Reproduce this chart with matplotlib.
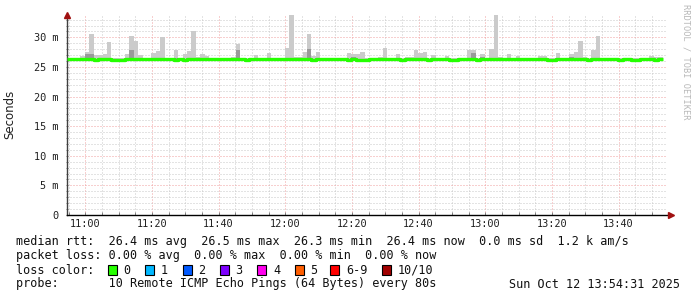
import matplotlib
matplotlib.use("Agg")
import matplotlib.pyplot as plt
from matplotlib.ticker import MultipleLocator, FuncFormatter
from matplotlib.patches import Rectangle

# ---------------- data ----------------
start_time = "10:54:31"
end_label = "Sun Oct 12 13:54:31 2025"
step_s = 80
span_s = 3 * 3600

# smoke top (ms) per 80 s step
smoke_max = [
    26.55, 26.6, 26.55, 26.87, 27.6, 30.52, 27.04, 27.04, 27.21, 29.17,
    26.6, 26.6, 26.6, 27.21, 30.19, 29.4, 27.04, 26.55, 26.55, 27.32,
    27.71, 30.07, 26.55, 26.55, 27.82, 26.55, 27.21, 27.71, 31.08, 26.76,
    27.15, 26.87, 26.55, 26.6, 26.6, 26.6, 26.55, 26.76, 28.84, 26.55,
    26.55, 26.55, 27.04, 26.55, 26.55, 27.32, 26.55, 26.6, 26.55, 28.16,
    33.78, 26.76, 26.76, 27.49, 30.52, 26.87, 27.49, 26.55, 26.6, 26.55,
    26.55, 26.55, 26.55, 27.32, 27.15, 27.15, 27.49, 26.55, 26.55, 26.55,
    26.76, 28.16, 26.55, 26.55, 27.15, 26.55, 26.76, 26.76, 27.88, 27.32,
    27.49, 26.55, 27.04, 26.55, 26.55, 26.87, 26.55, 26.6, 26.55, 26.6,
    27.88, 27.88, 26.55, 27.15, 26.55, 28.05, 33.78, 26.76, 26.55, 27.15,
    26.55, 26.87, 26.55, 26.6, 26.55, 26.55, 26.87, 26.87, 26.55, 26.55,
    27.32, 26.55, 26.55, 27.15, 27.49, 29.4, 26.76, 26.55, 27.88, 30.19,
    26.55, 26.55, 26.6, 26.55, 26.55, 26.55, 26.6, 26.55, 26.55, 26.55,
    26.55, 26.87, 26.76, 26.76,
]
smoke_min = [26.2] * len(smoke_max)

# darker inner smoke (step index, top in ms)
dark_steps = [4, 5, 14, 24, 38, 54, 64, 91, 93, 113]
dark_tops = [27.15, 27.2, 27.82, 26.6, 27.82, 28.05, 26.76, 27.32, 26.76, 26.76]

# median rtt per step (ms)
median_ms = [
    26.4, 26.4, 26.4, 26.4, 26.4, 26.4, 26.25, 26.4, 26.4, 26.4,
    26.25, 26.25, 26.25, 26.4, 26.4, 26.4, 26.4, 26.4, 26.4, 26.4,
    26.4, 26.4, 26.4, 26.4, 26.25, 26.4, 26.25, 26.4, 26.4, 26.4,
    26.4, 26.4, 26.4, 26.4, 26.4, 26.4, 26.4, 26.4, 26.4, 26.4,
    26.25, 26.4, 26.4, 26.4, 26.4, 26.4, 26.4, 26.4, 26.4, 26.4,
    26.4, 26.4, 26.4, 26.4, 26.4, 26.25, 26.4, 26.4, 26.4, 26.4,
    26.4, 26.4, 26.4, 26.25, 26.4, 26.25, 26.25, 26.25, 26.4, 26.4,
    26.4, 26.4, 26.4, 26.4, 26.4, 26.25, 26.4, 26.4, 26.4, 26.4,
    26.4, 26.25, 26.4, 26.4, 26.4, 26.4, 26.25, 26.25, 26.4, 26.4,
    26.4, 26.4, 26.25, 26.4, 26.4, 26.4, 26.4, 26.4, 26.4, 26.4,
    26.4, 26.4, 26.4, 26.4, 26.4, 26.4, 26.4, 26.4, 26.25, 26.25,
    26.4, 26.4, 26.4, 26.4, 26.4, 26.4, 26.4, 26.25, 26.4, 26.4,
    26.4, 26.4, 26.4, 26.4, 26.25, 26.4, 26.4, 26.25, 26.25, 26.4,
    26.4, 26.4, 26.25, 26.4,
]

legend_lines = [
    "median rtt:  26.4 ms avg  26.5 ms max  26.3 ms min  26.4 ms now  0.0 ms sd  1.2 k am/s",
    "packet loss: 0.00 % avg  0.00 % max  0.00 % min  0.00 % now",
]
probe_line = "probe:       10 Remote ICMP Echo Pings (64 Bytes) every 80s"
loss_labels = ["0", "1", "2", "3", "4", "5", "6-9", "10/10"]
loss_colors = ["#26ff00", "#00b8ff", "#0059ff", "#7e00ff", "#ff00ee",
               "#ff5e00", "#ff0000", "#a10000"]

# ---------------- figure ----------------
W, H = 697, 297
fig = plt.figure(figsize=(W / 100, H / 100), dpi=100)
fig.patch.set_facecolor("white")
ax = fig.add_axes([67 / W, (H - 215) / H, 600 / W, 200 / H])
ax.set_facecolor("white")

hh, mm, ss = (int(v) for v in start_time.split(":"))
t0 = hh * 3600 + mm * 60 + ss
times = [t0 + i * step_s for i in range(len(smoke_max))]

ax.set_xlim(t0, t0 + span_s)
ax.set_ylim(0, 33.78)

# grid
ax.xaxis.set_major_locator(MultipleLocator(1200))
ax.xaxis.set_minor_locator(MultipleLocator(300))
ax.yaxis.set_major_locator(MultipleLocator(5))
ax.yaxis.set_minor_locator(MultipleLocator(1))
ax.grid(which="minor", color="#c8c8c8", linestyle=(0, (1, 2)), linewidth=0.72)
ax.grid(which="major", color="#f0a0a0", linestyle=(0, (1, 2)), linewidth=0.72)
ax.set_axisbelow(True)

# smoke
heights = [mx - mn for mx, mn in zip(smoke_max, smoke_min)]
ax.bar(times, heights, bottom=smoke_min, width=step_s, align="edge",
       color="#cbcbcb", linewidth=0, zorder=2)
dk_x = [times[i] for i in dark_steps]
dk_b = [smoke_min[i] for i in dark_steps]
dk_h = [top - smoke_min[i] for i, top in zip(dark_steps, dark_tops)]
ax.bar(dk_x, dk_h, bottom=dk_b, width=step_s, align="edge",
       color="#9a9a9a", linewidth=0, zorder=3)

# median line
ax.step(times + [times[-1] + step_s], median_ms + [median_ms[-1]], where="post",
        color="#26ff00", linewidth=2.4, solid_capstyle="butt", zorder=4)

# axes styling
for s in ["top", "right"]:
    ax.spines[s].set_visible(False)
ax.spines["left"].set_color("#404040")
ax.spines["bottom"].set_color("black")
ax.spines["left"].set_linewidth(1.0)
ax.spines["bottom"].set_linewidth(1.0)
ax.spines["bottom"].set_bounds(t0, t0 + span_s * 1.003)
ax.tick_params(which="both", length=2, color="#808080", width=0.7)
ax.tick_params(axis="x", which="both", direction="in", pad=3)
ax.tick_params(axis="y", which="both", direction="inout", pad=5)

mono = "DejaVu Sans Mono"
ax.xaxis.set_major_formatter(FuncFormatter(
    lambda v, p: "%02d:%02d" % (int(v) // 3600, (int(v) % 3600) // 60)))
ax.yaxis.set_major_formatter(FuncFormatter(
    lambda v, p: "0" if abs(v) < 1e-9 else "%d m" % round(v)))
for lab in ax.get_xticklabels() + ax.get_yticklabels():
    lab.set_fontfamily(mono)
    lab.set_fontsize(7.4)
    lab.set_color("#202020")

# arrows
ax.plot([0], [1.0], marker="^", color="#a01010", markersize=4.5,
        transform=ax.transAxes, clip_on=False, zorder=6)
ax.plot([1.006], [0], marker=">", color="#a01010", markersize=4.5,
        transform=ax.transAxes, clip_on=False, zorder=6)

# y label
fig.text(10 / W, 1 - 114 / H, "Seconds", rotation=90, ha="center", va="center",
         fontsize=8.5, family="DejaVu Sans", color="#202020")

# watermark
fig.text(686 / W, 1 - 4 / H, "RRDTOOL / TOBI OETIKER", rotation=270,
         ha="center", va="top", fontsize=6.2, family=mono, color="#b8b8b8")

# legend text
fs = 8.5
fig.text(16 / W, 1 - 241 / H, legend_lines[0], ha="left", va="center",
         fontsize=fs, family=mono, color="#101010")
fig.text(16 / W, 1 - 255.5 / H, legend_lines[1], ha="left", va="center",
         fontsize=fs, family=mono, color="#101010")
fig.text(16 / W, 1 - 270 / H, "loss color:", ha="left", va="center",
         fontsize=fs, family=mono, color="#101010")
box_x = [108, 145.3, 182.7, 220, 257.3, 294.7, 330.2, 381.8]
for bx, lab, col in zip(box_x, loss_labels, loss_colors):
    fig.add_artist(Rectangle((bx / W, 1 - 275 / H), 9 / W, 10 / H,
                             transform=fig.transFigure, facecolor=col,
                             edgecolor="black", linewidth=0.8))
    fig.text((bx + 15.6) / W, 1 - 270 / H, lab, ha="left", va="center",
             fontsize=fs, family=mono, color="#101010")
fig.text(16 / W, 1 - 284 / H, probe_line, ha="left", va="center",
         fontsize=fs, family=mono, color="#101010")
fig.text(680 / W, 1 - 284 / H, end_label, ha="right", va="center",
         fontsize=fs, family=mono, color="#101010")

fig.savefig("out.png", dpi=100, facecolor="white")
